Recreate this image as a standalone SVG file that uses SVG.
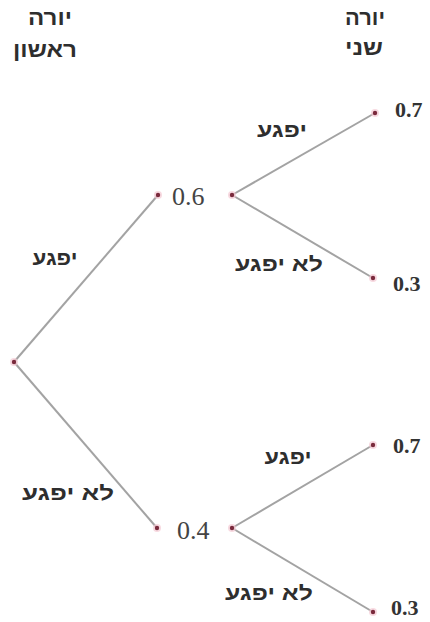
<svg xmlns="http://www.w3.org/2000/svg" width="430" height="622" viewBox="0 0 430 622">
<style>
.edge{stroke:#a3a3a3;stroke-width:2;fill:none}
.dot{fill:#7a2a3c}
.halo{fill:#f3c9d3;opacity:0.7}
.heb{font-family:"Liberation Sans","DejaVu Sans",sans-serif;font-weight:bold;fill:#2e2e2e;text-anchor:middle;direction:rtl}
.mid{font-family:"Liberation Serif","DejaVu Serif",serif;font-size:26px;fill:#444;text-anchor:start}
.leaf{font-family:"Liberation Serif","DejaVu Serif",serif;font-size:22px;font-weight:bold;fill:#333;text-anchor:start}
</style>
<rect width="430" height="622" fill="#ffffff"/>
<g id="headers">
<text class="heb" x="50" y="25" font-size="21" textLength="44" lengthAdjust="spacingAndGlyphs">יורה</text>
<text class="heb" x="45" y="57" font-size="21" textLength="64" lengthAdjust="spacingAndGlyphs">ראשון</text>
<text class="heb" x="365" y="25" font-size="21" textLength="40" lengthAdjust="spacingAndGlyphs">יורה</text>
<text class="heb" x="364" y="55" font-size="21" textLength="38" lengthAdjust="spacingAndGlyphs">שני</text>
</g>
<g id="connectors">
<line class="edge" x1="14" y1="362" x2="158" y2="195"/>
<line class="edge" x1="14" y1="362" x2="157" y2="528"/>
<line class="edge" x1="232" y1="195" x2="375" y2="113"/>
<line class="edge" x1="232" y1="195" x2="373" y2="278"/>
<line class="edge" x1="232" y1="528" x2="373" y2="445"/>
<line class="edge" x1="232" y1="528" x2="373" y2="612"/>
</g>
<g id="edge-labels">
<text class="heb" x="282" y="137" font-size="20" textLength="50" lengthAdjust="spacingAndGlyphs">יפגע</text>
<text class="heb" x="279" y="271" font-size="20" textLength="88" lengthAdjust="spacingAndGlyphs">לא יפגע</text>
<text class="heb" x="55" y="265" font-size="20" textLength="45" lengthAdjust="spacingAndGlyphs">יפגע</text>
<text class="heb" x="68" y="500" font-size="20" textLength="92" lengthAdjust="spacingAndGlyphs">לא יפגע</text>
<text class="heb" x="288" y="464" font-size="20" textLength="47" lengthAdjust="spacingAndGlyphs">יפגע</text>
<text class="heb" x="269" y="600" font-size="20" textLength="88" lengthAdjust="spacingAndGlyphs">לא יפגע</text>
</g>
<g id="node-root">
<circle class="halo" cx="14" cy="362" r="4"/><circle class="dot" cx="14" cy="362" r="2.2"/>
</g>
<g id="node-06">
<circle class="halo" cx="158" cy="195" r="4"/><circle class="dot" cx="158" cy="195" r="2.2"/>
<text class="mid" x="172" y="205">0.6</text>
<circle class="halo" cx="232" cy="195" r="4"/><circle class="dot" cx="232" cy="195" r="2.2"/>
</g>
<g id="node-04">
<circle class="halo" cx="157" cy="528" r="4"/><circle class="dot" cx="157" cy="528" r="2.2"/>
<text class="mid" x="177" y="539">0.4</text>
<circle class="halo" cx="232" cy="528" r="4"/><circle class="dot" cx="232" cy="528" r="2.2"/>
</g>
<g id="leaf-1">
<circle class="halo" cx="375" cy="113" r="4"/><circle class="dot" cx="375" cy="113" r="2.2"/>
<text class="leaf" x="395" y="117">0.7</text>
</g>
<g id="leaf-2">
<circle class="halo" cx="373" cy="278" r="4"/><circle class="dot" cx="373" cy="278" r="2.2"/>
<text class="leaf" x="393" y="291">0.3</text>
</g>
<g id="leaf-3">
<circle class="halo" cx="373" cy="445" r="4"/><circle class="dot" cx="373" cy="445" r="2.2"/>
<text class="leaf" x="393" y="453">0.7</text>
</g>
<g id="leaf-4">
<circle class="halo" cx="373" cy="612" r="4"/><circle class="dot" cx="373" cy="612" r="2.2"/>
<text class="leaf" x="391" y="615">0.3</text>
</g>
</svg>
